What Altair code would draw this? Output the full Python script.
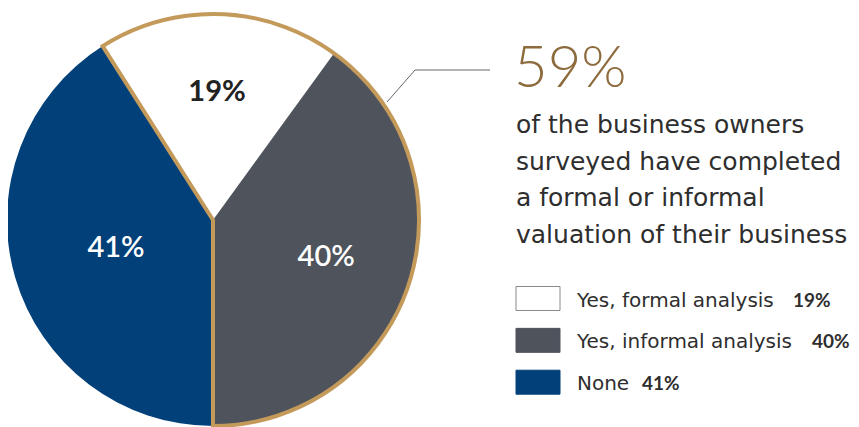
import math
import altair as alt
import pandas as pd

# ---- data ----
categories = ["Yes, formal analysis", "Yes, informal analysis", "None"]
values = [19, 40, 41]
slice_labels = ["19%", "40%", "41%"]
legend_pcts = ["19%", "40%", "41%"]
fill_colors = ["#FFFFFF", "#4F535C", "#02407A"]
draw_order = [3, 1, 2]  # clockwise drawing order
headline = "59%"
body_lines = ["of the business owners", "surveyed have completed",
              "a formal or informal", "valuation of their business"]

GOLD = "#C49A5B"
BROWN = "#8D6B3D"
TEXT = "#2E2E2E"
CX, CY, R = 205, 212, 206

df = pd.DataFrame({"cat": categories, "value": values, "label": slice_labels,
                   "ord": draw_order, "pct": legend_pcts})

yes_total = values[0] + values[1]
df_out = pd.DataFrame({"grp": ["None", "Yes"], "value": [values[2], yes_total], "ord": [1, 2]})

# informal slice ends straight down
start = math.pi - 2 * math.pi * values[1] / 100

theta_main = alt.Theta("value:Q", stack=True,
                       scale=alt.Scale(domain=[0, 100], range=[start, start + 2 * math.pi]))

base = alt.Chart(df).encode(theta=theta_main, order=alt.Order("ord:Q"),
                            x=alt.value(CX), y=alt.value(CY))

pie = base.mark_arc(radius=R).encode(
    color=alt.Color("cat:N", scale=alt.Scale(domain=categories, range=fill_colors), legend=None),
)

outline = alt.Chart(df_out).mark_arc(radius=R, fillOpacity=0, strokeWidth=4, strokeJoin="miter").encode(
    theta=alt.Theta("value:Q", stack=True,
                    scale=alt.Scale(domain=[0, 100], range=[math.pi, 3 * math.pi])),
    order=alt.Order("ord:Q"),
    stroke=alt.Stroke("grp:N", scale=alt.Scale(domain=["Yes", "None"], range=[GOLD, "rgba(0,0,0,0)"]),
                      legend=None),
    x=alt.value(CX), y=alt.value(CY),
)


def slice_label(cat, radius, color, weight):
    return base.mark_text(font="Lato", fontSize=29, fontWeight=weight, color=color,
                          baseline="middle", align="center", radius=radius).encode(
        text="t:N",
    ).transform_calculate(
        t=f"datum.cat == '{cat}' ? datum.label : ''",
    )


lab1 = slice_label(categories[0], 128, "#222222", "bold")
lab2 = slice_label(categories[1], 119, "#FFFFFF", 600)
lab3 = slice_label(categories[2], 101, "#FFFFFF", 600)

# callout line
ann = alt.Chart(pd.DataFrame({"a": [0]}))
rule1 = ann.mark_rule(color="#666666", strokeWidth=1).encode(
    x=alt.value(379), y=alt.value(94), x2=alt.value(407), y2=alt.value(62))
rule2 = ann.mark_rule(color="#666666", strokeWidth=1).encode(
    x=alt.value(407), y=alt.value(62), x2=alt.value(482), y2=alt.value(62))

head = ann.mark_text(text=headline, font="Lato", fontSize=58, fontWeight=300, color=BROWN,
                     align="left", baseline="alphabetic").encode(x=alt.value(506), y=alt.value(79))

body = ann.mark_text(text=body_lines, font="DejaVu Sans", fontSize=25, color=TEXT, lineHeight=36.6,
                     align="left", baseline="alphabetic").encode(x=alt.value(508), y=alt.value(125))

# legend
ypos = alt.Y("cat:N", scale=alt.Scale(domain=categories, range=[290.5, 374.2], type="point", padding=0),
             axis=None)
box_path = "M-1,-0.545L1,-0.545L1,0.545L-1,0.545Z"
leg_box = alt.Chart(df).mark_point(shape=box_path, size=1936, filled=True, opacity=1,
                                    strokeWidth=1).encode(
    x=alt.value(530), y=ypos,
    fill=alt.Fill("cat:N", scale=alt.Scale(domain=categories, range=fill_colors), legend=None),
    stroke=alt.Stroke("cat:N", scale=alt.Scale(domain=categories,
                                               range=["#8A8A8A", fill_colors[1], fill_colors[2]]),
                      legend=None),
)
leg_text = alt.Chart(df).mark_text(font="DejaVu Sans", fontSize=20, color=TEXT, align="left",
                                   baseline="alphabetic", dy=8).encode(
    x=alt.value(569), y=ypos, text="cat:N")
leg_pct = alt.Chart(df).mark_text(font="Lato", fontSize=19, fontWeight="bold", color=TEXT,
                                  align="left", baseline="alphabetic", dy=8).encode(
    x=alt.X("px:Q", scale=None), y=ypos, text="pct:N"
).transform_calculate(
    px="datum.cat == 'None' ? 634 : (datum.cat == 'Yes, formal analysis' ? 785 : 804)"
)

chart = alt.layer(pie, outline, lab1, lab2, lab3, rule1, rule2, head, body,
                  leg_box, leg_text, leg_pct).resolve_scale(
    theta="independent", stroke="independent"
).properties(
    width=843, height=411, padding={"left": 0, "top": 0, "right": 0, "bottom": 8},
    autosize=alt.AutoSizeParams(type="none"),
).configure_view(stroke=None)

chart.save("out.html", embed_options={"renderer": "svg", "actions": False})
